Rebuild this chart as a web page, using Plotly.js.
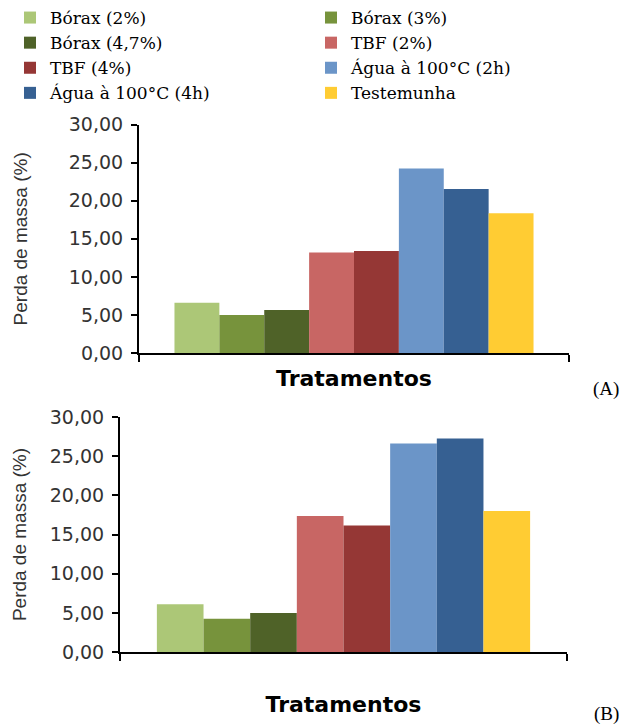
<!DOCTYPE html>
<html>
<head>
<meta charset="utf-8">
<script src="https://cdn.plot.ly/plotly-3.0.1.min.js"></script>
<style>html,body{margin:0;padding:0;background:#fff;}#chart{width:621px;height:725px;}</style>
</head>
<body>
<div id="chart"></div>
<script>
const categories = ['Bórax (2%)', 'Bórax (3%)', 'Bórax (4,7%)', 'TBF (2%)', 'TBF (4%)', 'Água à 100°C (2h)', 'Água à 100°C (4h)', 'Testemunha'];
const valuesA = [6.6, 5.0, 5.65, 13.2, 13.4, 24.25, 21.55, 18.35];
const valuesB = [6.1, 4.25, 5.0, 17.35, 16.15, 26.6, 27.25, 18.0];
const xLabel = 'Tratamentos';
const yLabel = 'Perda de massa (%)';
const yTicks = [0, 5, 10, 15, 20, 25, 30];
const panelLabels = ['(A)', '(B)'];

const colors = ['#ACC777', '#77933C', '#4F6228', '#C86664', '#953735', '#6B95C8', '#366092', '#FFCC33'];

const traces = [];
categories.forEach((name, i) => {
  traces.push({
    type: 'bar', name: name, x: [xLabel], y: [valuesA[i]],
    xaxis: 'x', yaxis: 'y', legendgroup: name, showlegend: true,
    marker: {color: colors[i], line: {width: 0}}, hoverinfo: 'name+y'
  });
});
categories.forEach((name, i) => {
  traces.push({
    type: 'bar', name: name, x: [xLabel], y: [valuesB[i]],
    xaxis: 'x2', yaxis: 'y2', legendgroup: name, showlegend: false,
    marker: {color: colors[i], line: {width: 0}}, hoverinfo: 'name+y'
  });
});

const W = 621, H = 725;
const px = v => v / W;
const py = v => 1 - v / H;

const tickFont = {family: 'DejaVu Sans, Verdana, sans-serif', size: 19, color: '#333333'};
const yTitleFont = {family: 'Liberation Sans, Arial, sans-serif', size: 19, color: '#333333'};
const xTitleFont = {family: 'DejaVu Sans, Verdana, sans-serif', size: 22, color: '#000000', weight: 'bold'};

function yAxis(domain, anchor, standoff) {
  return {
    domain: domain, anchor: anchor, range: [0, 30], fixedrange: true,
    tickvals: yTicks, tickformat: '.2f', ticks: 'outside', ticklen: 6, tickwidth: 2,
    tickcolor: '#000', showline: true, linecolor: '#000', linewidth: 2,
    showgrid: false, zeroline: false, tickfont: tickFont, ticklabelstandoff: 4,
    title: {text: yLabel, font: yTitleFont, standoff: standoff}
  };
}
function xAxis(domain, anchor, standoff) {
  return {
    domain: domain, anchor: anchor, type: 'category', showticklabels: false,
    ticks: 'outside', tickson: 'boundaries', ticklen: 7, tickwidth: 2, tickcolor: '#000',
    showline: true, linecolor: '#000', linewidth: 2, showgrid: false, zeroline: false,
    title: {text: xLabel, font: xTitleFont, standoff: standoff}
  };
}

const layout = {
  width: W, height: H,
  margin: {l: 0, r: 0, t: 0, b: 0},
  paper_bgcolor: '#fff', plot_bgcolor: '#fff',
  separators: ',.',
  barmode: 'group', bargap: 0.165, bargroupgap: 0,
  showlegend: true,
  legend: {
    orientation: 'h', x: px(10), y: 1 + 2 / H, xanchor: 'left', yanchor: 'top',
    entrywidth: 256, entrywidthmode: 'pixels', traceorder: 'normal',
    font: {family: 'DejaVu Serif, Liberation Serif, serif', size: 17, color: '#000'},
    itemclick: false, itemdoubleclick: false, bgcolor: 'rgba(0,0,0,0)', tracegroupgap: 0
  },
  xaxis: xAxis([px(139), px(569)], 'y', 17),
  yaxis: yAxis([py(352), py(123)], 'x', 36),
  xaxis2: xAxis([px(120), px(567)], 'y2', 43),
  yaxis2: yAxis([py(652), py(416)], 'x2', 18),
  annotations: [
    {text: panelLabels[0], xref: 'paper', yref: 'paper', x: px(621), y: py(388), xanchor: 'right', yanchor: 'middle', showarrow: false,
     font: {family: 'Liberation Serif, Times New Roman, serif', size: 19, color: '#000'}},
    {text: panelLabels[1], xref: 'paper', yref: 'paper', x: px(621), y: py(714), xanchor: 'right', yanchor: 'middle', showarrow: false,
     font: {family: 'Liberation Serif, Times New Roman, serif', size: 19, color: '#000'}}
  ]
};

Plotly.newPlot('chart', traces, layout, {displayModeBar: false, staticPlot: true});
</script>
</body>
</html>
